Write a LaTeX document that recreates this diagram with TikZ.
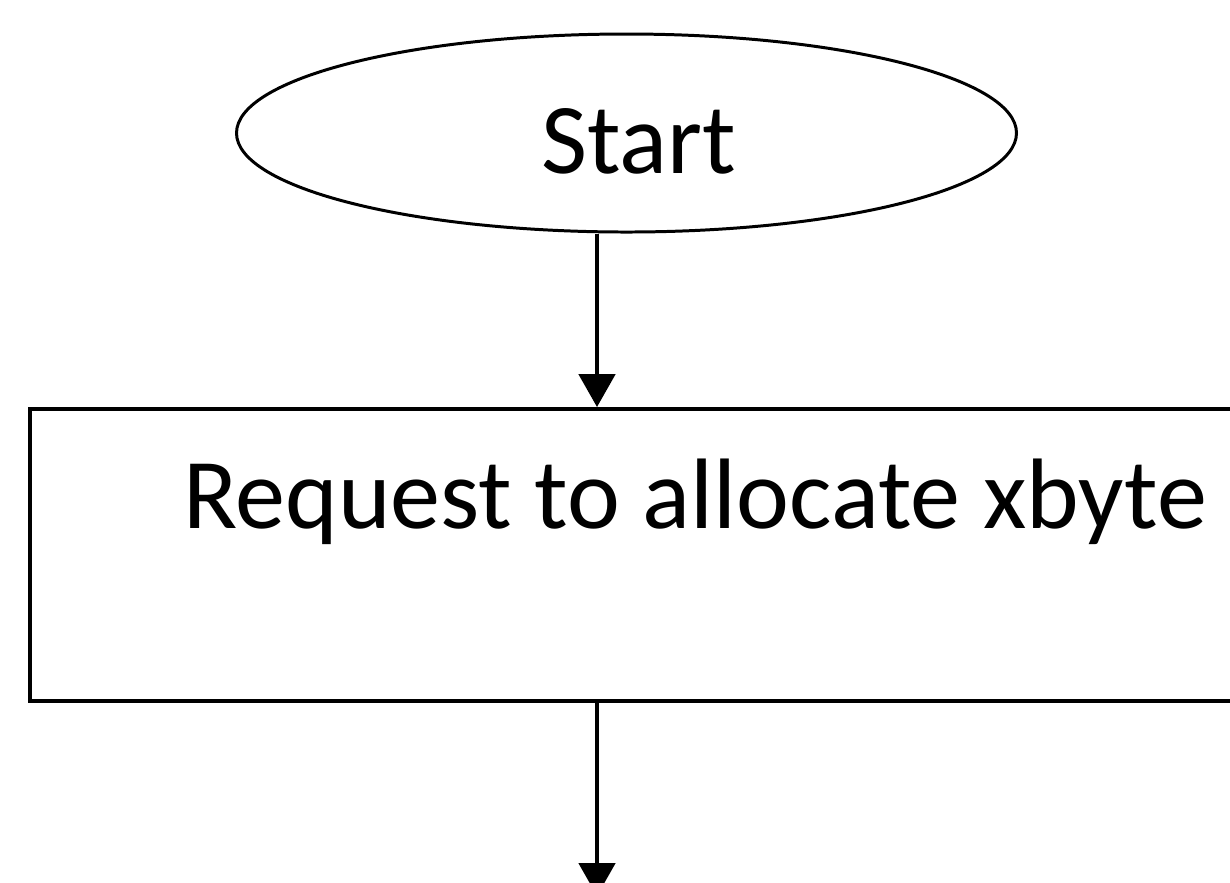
\documentclass[tikz,border=0pt]{standalone}
\usepackage{fontspec}
\setmainfont{Carlito}
\usetikzlibrary{shapes.geometric,arrows.meta}

\tikzset{
    terminal/.style={draw=black,line width=0.85pt,ellipse,inner sep=0pt,
        minimum width=7.80cm,minimum height=1.98cm,font=\fontsize{28.5}{32}\selectfont,
        text height=0.8cm,text depth=0cm},
    process/.style={draw=black,line width=1.1pt,rectangle,inner sep=0pt,
        minimum width=13.30cm,minimum height=2.92cm,font=\fontsize{28.5}{32}\selectfont,
        text height=0.5cm,text depth=1.04cm},
    flow/.style={line width=1.4pt,-{Triangle[width=0.36cm,length=0.33cm]}}
}

\begin{document}
\begin{tikzpicture}
            \clip (0,0) rectangle (12.30,-8.82);
            \fill[white] (0,0) rectangle (12.30,-8.82);

            \node[terminal] (start) at (6.265,-1.33){\hspace*{0.24cm}Start};
            \node[process] (req) at (6.95,-5.55){Request to allocate xbyte};
            \coordinate (next) at (5.97,-8.96);

            \draw[flow] (start.south -| next) -- (req.north -| next);
            \draw[flow] (req.south -| next) -- (next);
\end{tikzpicture}
\end{document}
